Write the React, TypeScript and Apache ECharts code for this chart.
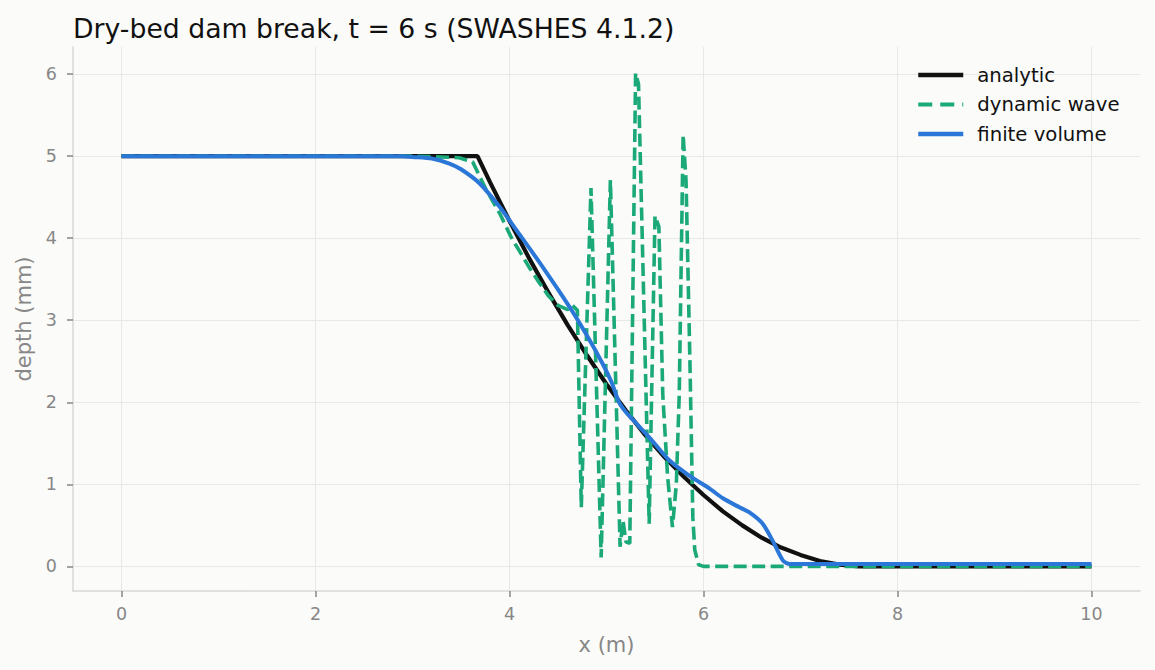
import { useEffect, useRef } from 'react'
import * as echarts from 'echarts'

// x positions (m) and depths (mm)
const analyticX = [0, 3.67, 3.8, 4.0, 4.2, 4.4, 4.6, 4.8, 5.0, 5.2, 5.4, 5.6, 5.8, 6.0, 6.2, 6.4, 6.6, 6.8, 7.0, 7.2, 7.4, 7.6, 7.66, 10]
const analyticDepth = [5, 5, 4.68, 4.21, 3.76, 3.34, 2.94, 2.57, 2.22, 1.9, 1.6, 1.33, 1.09, 0.87, 0.67, 0.5, 0.35, 0.23, 0.14, 0.066, 0.021, 0.001, 0, 0]

const dynamicX = [
  0, 3.0, 3.3, 3.48, 3.62, 3.76, 3.9, 4.03, 4.1, 4.2, 4.3, 4.4, 4.5, 4.6, 4.65, 4.7,
  4.74, 4.84, 4.945, 5.04, 5.14, 5.17, 5.2, 5.24, 5.3, 5.33, 5.44, 5.5, 5.54, 5.58,
  5.63, 5.68, 5.72, 5.75, 5.79, 5.82, 5.86, 5.89, 5.91, 5.95, 6.0, 10,
]
const dynamicDepth = [
  5, 5, 4.99, 4.98, 4.93, 4.59, 4.3, 3.98, 3.85, 3.65, 3.47, 3.3, 3.18, 3.13, 3.18, 3.12,
  0.72, 4.61, 0.11, 4.71, 0.24, 0.56, 0.3, 0.28, 6.01, 5.88, 0.52, 4.27, 4.14, 2.1,
  1.09, 0.48, 1.0, 2.1, 5.26, 4.7, 2.5, 0.6, 0.2, 0.02, 0, 0,
]

const finiteX = [0, 2.9, 3.0, 3.2, 3.38, 3.5, 3.69, 3.9, 4.07, 4.3, 4.62, 4.8, 4.96, 5.05, 5.13, 5.2, 5.27, 5.45, 5.65, 5.86, 6.06, 6.2, 6.37, 6.47, 6.61, 6.71, 6.82, 6.89, 10]
const finiteDepth = [5, 5, 4.99, 4.97, 4.91, 4.84, 4.67, 4.38, 4.1, 3.72, 3.16, 2.81, 2.47, 2.25, 2.0, 1.88, 1.79, 1.56, 1.29, 1.1, 0.95, 0.83, 0.72, 0.66, 0.52, 0.32, 0.07, 0.03, 0.03]

const xTicks = [0, 2, 4, 6, 8, 10]
const yTicks = [0, 1, 2, 3, 4, 5, 6]

const pairs = (xs: number[], ys: number[]) => xs.map((x, i) => [x, ys[i]])

const FONT = 'DejaVu Sans, sans-serif'
const GREY = '#878787'

export default function App() {
  const chartRef = useRef<HTMLDivElement>(null)

  useEffect(() => {
    if (!chartRef.current) return
    const chart = echarts.init(chartRef.current, undefined, { renderer: 'svg' })

    const axisCommon = {
      axisLine: { show: true, onZero: false, lineStyle: { color: '#d8d8d3', width: 1.5 } },
      axisTick: { show: true, length: 6, lineStyle: { color: GREY, width: 1.5 } },
      splitLine: { show: true, lineStyle: { color: '#e8e8e6', width: 1 } },
      nameLocation: 'middle' as const,
      nameTextStyle: { color: GREY, fontSize: 21, fontFamily: FONT },
    }

    chart.setOption({
      animation: false,
      backgroundColor: '#fbfbf9',
      textStyle: { fontFamily: FONT },
      title: {
        text: 'Dry-bed dam break, t = 6 s (SWASHES 4.1.2)',
        left: 68,
        top: 10,
        textStyle: { color: '#111111', fontSize: 26.7, fontWeight: 'normal', fontFamily: FONT },
      },
      legend: {
        orient: 'vertical',
        left: 911,
        top: 60,
        itemWidth: 45,
        itemHeight: 1,
        itemGap: 9.5,
        selectedMode: false,
        textStyle: { color: '#111111', fontSize: 19.7, lineHeight: 20, fontFamily: FONT, padding: [0, 0, 0, 9] },
        data: [
          { name: 'analytic', lineStyle: { width: 4.5 } },
          { name: 'dynamic wave', lineStyle: { width: 4, type: [14, 8] } },
          { name: 'finite volume', lineStyle: { width: 4.5 } },
        ],
      },
      grid: { left: 73, right: 15, top: 47, bottom: 79 },
      xAxis: {
        type: 'value',
        min: -0.5,
        max: 10.5,
        name: 'x (m)',
        nameGap: 43,
        ...axisCommon,
        axisTick: { ...axisCommon.axisTick, customValues: xTicks },
        axisLabel: { customValues: xTicks, color: GREY, fontSize: 17.5, margin: 14, fontFamily: FONT },
      },
      yAxis: {
        type: 'value',
        min: -0.3,
        max: 6.33,
        name: 'depth (mm)',
        nameGap: 38,
        ...axisCommon,
        axisTick: { ...axisCommon.axisTick, customValues: yTicks },
        axisLabel: { customValues: yTicks, color: GREY, fontSize: 17.5, margin: 16, fontFamily: FONT },
      },
      series: [
        {
          name: 'analytic',
          type: 'line',
          data: pairs(analyticX, analyticDepth),
          showSymbol: false,
          symbol: 'none',
          color: '#111111',
          lineStyle: { width: 4.2, color: '#111111' },
          z: 2,
        },
        {
          name: 'dynamic wave',
          type: 'line',
          data: pairs(dynamicX, dynamicDepth),
          showSymbol: false,
          symbol: 'none',
          color: '#1ba97a',
          lineStyle: { width: 3.6, color: '#1ba97a', type: [13, 5.5] },
          z: 3,
        },
        {
          name: 'finite volume',
          type: 'line',
          data: pairs(finiteX, finiteDepth),
          showSymbol: false,
          symbol: 'none',
          smooth: 0.25,
          color: '#2b77d8',
          lineStyle: { width: 4, color: '#2b77d8' },
          z: 4,
        },
      ],
    })

    return () => {
      chart.dispose()
    }
  }, [])

  return (
    <div
      ref={chartRef}
      style={{ position: 'fixed', left: 0, top: 0, width: '1155px', height: '670px' }}
    />
  )
}
